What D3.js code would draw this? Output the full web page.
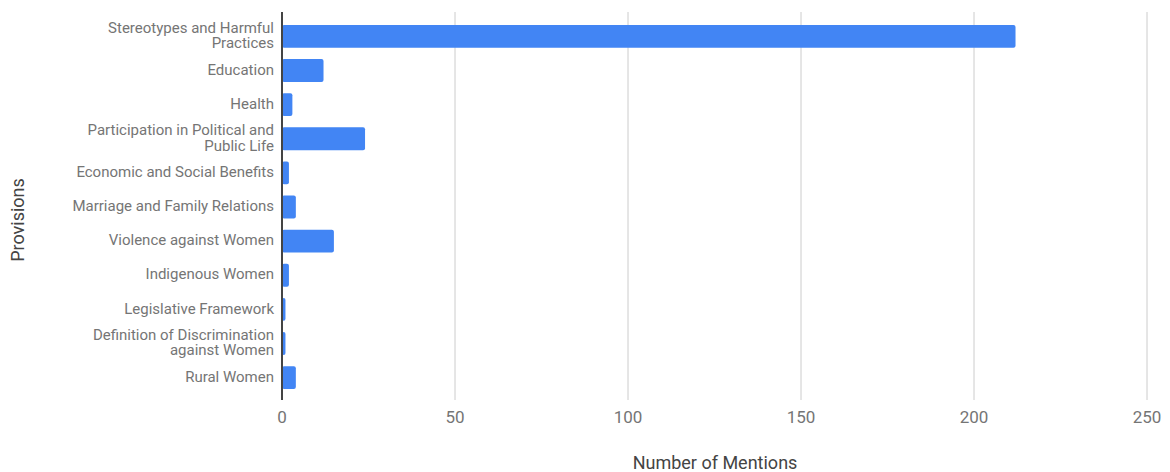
<!DOCTYPE html>
<html>
  <head>
    <title>Provisions</title>
    <script src="https://cdn.jsdelivr.net/npm/d3@7/dist/d3.min.js"></script>
    <style>
      body { margin: 0; background: #fff; }
      text { font-family: Roboto, "Noto Sans", sans-serif; }
    </style>
  </head>
  <body>
    <svg width="1170" height="472" id="mainsvg"></svg>
    <script>
      const provisions = [
        ['Stereotypes and Harmful', 'Practices'],
        ['Education'],
        ['Health'],
        ['Participation in Political and', 'Public Life'],
        ['Economic and Social Benefits'],
        ['Marriage and Family Relations'],
        ['Violence against Women'],
        ['Indigenous Women'],
        ['Legislative Framework'],
        ['Definition of Discrimination', 'against Women'],
        ['Rural Women']
      ];
      const mentions = [212, 12, 3, 24, 2, 4, 15, 2, 1, 1, 4];
      const xTicks = [0, 50, 100, 150, 200, 250];

      const svg = d3.select('#mainsvg');
      const keys = provisions.map(d => d.join(' '));
      const data = keys.map((k, i) => ({key: k, lines: provisions[i], value: mentions[i]}));

      const plotTop = 12, plotBottom = 400;
      const xScale = d3.scaleLinear().domain([0, 250]).range([282, 1147]);
      const yScale = d3.scaleBand().domain(keys).range([25, 389]).paddingInner(0.33).paddingOuter(0);

      // gridlines
      svg.append('g').selectAll('line').data(xTicks.slice(1)).join('line')
        .attr('x1', d => xScale(d)).attr('x2', d => xScale(d))
        .attr('y1', plotTop).attr('y2', plotBottom)
        .attr('stroke', '#cccccc').attr('stroke-width', 1);

      // tick labels
      svg.append('g').selectAll('text').data(xTicks).join('text')
        .attr('x', d => xScale(d)).attr('y', 423)
        .attr('text-anchor', 'middle')
        .attr('font-size', 17).attr('fill', '#757575')
        .text(d => d);

      // bars
      svg.append('g').selectAll('rect').data(data).join('rect')
        .attr('x', xScale(0))
        .attr('y', d => yScale(d.key))
        .attr('width', d => xScale(d.value) - xScale(0))
        .attr('height', yScale.bandwidth())
        .attr('rx', 2)
        .attr('fill', '#4285f4');

      // baseline
      svg.append('line')
        .attr('x1', xScale(0)).attr('x2', xScale(0))
        .attr('y1', plotTop).attr('y2', plotBottom)
        .attr('stroke', '#444').attr('stroke-width', 2);

      // category labels
      const lab = svg.append('g').selectAll('text').data(data).join('text')
        .attr('text-anchor', 'end')
        .attr('font-size', 15).attr('fill', '#757575')
        .attr('transform', d => `translate(274, ${yScale(d.key) + yScale.bandwidth() / 2})`);
      lab.selectAll('tspan').data(d => d.lines.map((l, i) => ({l, i, n: d.lines.length}))).join('tspan')
        .attr('x', 0)
        .attr('y', d => (d.i - (d.n - 1) / 2) * 15.5 - 1)
        .attr('dy', '0.35em')
        .text(d => d.l);

      // axis titles
      svg.append('text')
        .attr('x', 715).attr('y', 469)
        .attr('text-anchor', 'middle')
        .attr('font-size', 18).attr('fill', '#444')
        .text('Number of Mentions');

      svg.append('text')
        .attr('transform', 'translate(24, 220) rotate(-90)')
        .attr('text-anchor', 'middle')
        .attr('font-size', 18).attr('fill', '#444')
        .text('Provisions');
    </script>
  </body>
</html>
